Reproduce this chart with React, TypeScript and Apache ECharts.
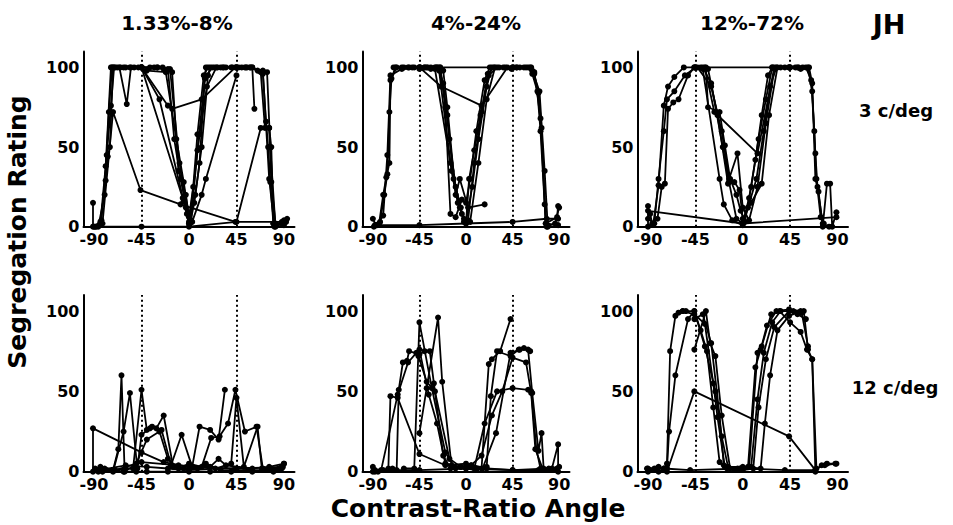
import React, { useEffect, useRef } from "react";
import * as echarts from "echarts";

// ---- tick labels, guides and texts ----
const ANGLE_TICKS = [-90, -45, 0, 45, 90];
const RATING_TICKS = [0, 50, 100];
const GUIDE_ANGLES = [-45, 45];
const CONTRASTS = ["1.33%-8%", "4%-24%", "12%-72%"];
const FREQS = ["3 c/deg", "12 c/deg"];
const OBSERVER = "JH";
const X_TITLE = "Contrast-Ratio Angle";
const Y_TITLE = "Segregation Rating";

// ---- data: each panel is a list of runs, each run a list of [angle, rating] ----
const low3: number[][][] = [
  [[-91, 15], [-91, 0], [-84, 3], [-79, 29], [-77, 44], [-75, 50], [-72, 100], [-68, 100], [-60, 100], [-52, 100], [-45, 100], [-37, 100], [-30, 100], [-25, 100], [-20, 99], [-14, 55], [-8, 30], [0, 3], [6, 20], [12, 50], [18, 95], [20, 100], [27, 100], [35, 100], [45, 100], [53, 100], [60, 100], [65, 98], [70, 96], [73, 66], [75, 50], [77, 28], [80, 2], [88, 2], [90, 4]],
  [[-89, 0], [-83, 4], [-78, 45], [-74, 76], [-71, 100], [-66, 100], [-59, 77], [-55, 100], [-45, 100], [-33, 100], [-24, 99], [-16, 97], [-10, 35], [-3, 20], [1, 2], [5, 15], [10, 40], [15, 93], [22, 100], [32, 100], [45, 100], [54, 100], [60, 100], [62, 74]],
  [[-88, 0], [-82, 2], [-72, 72], [-46, 23], [-8, 14], [44, 3], [88, 3], [93, 5]],
  [[-70, 100], [-56, 100], [-45, 100], [-20, 76], [-16, 74], [12, 80], [44, 100], [50, 100], [58, 100], [68, 97], [72, 62], [76, 62], [78, 28], [82, 2], [90, 2]],
  [[-90, 0], [-45, 0], [0, 0], [45, 3], [68, 62], [76, 62], [78, 50], [80, 2], [90, 1]],
  [[-86, 0], [-80, 20], [-76, 72], [-73, 100], [-62, 100], [-48, 100], [-40, 98], [-22, 97], [-12, 55], [-5, 28], [0, 6], [4, 25], [8, 58], [14, 95], [18, 100], [30, 100], [40, 100], [47, 100], [58, 100], [69, 97], [74, 97], [77, 50], [82, 0], [92, 3]],
  [[-84, 2], [-79, 38], [-74, 100], [-65, 100], [-45, 100], [-28, 80], [-5, 16], [0, 2], [10, 58], [17, 88], [26, 100], [41, 100], [55, 100], [70, 98], [76, 30], [81, 0]],
  [[-45, 100], [-30, 100], [-18, 99], [-9, 40], [-2, 8], [2, 4], [8, 48], [13, 80], [16, 100], [24, 100], [33, 100], [45, 100]],
  [[-45, 100], [-6, 18], [-3, 12], [0, 2], [3, 3], [12, 20], [16, 30], [45, 95]],
];

const mid3: number[][][] = [
  [[-90, 5], [-87, 1], [-83, 3], [-79, 20], [-76, 33], [-74, 72], [-72, 93], [-67, 100], [-62, 100], [-56, 100], [-45, 100], [-40, 100], [-34, 100], [-30, 100], [-25, 100], [-18, 70], [-12, 30], [-6, 12], [0, 3], [6, 25], [12, 55], [20, 88], [25, 100], [32, 100], [45, 100], [52, 100], [60, 100], [64, 96], [69, 85], [72, 60], [76, 14], [78, 0], [86, 2], [90, 12]],
  [[-89, 0], [-84, 2], [-80, 20], [-77, 31], [-74, 40], [-73, 92], [-68, 100], [-60, 100], [-50, 100], [-44, 100], [-37, 100], [-29, 100], [-25, 100], [-20, 75], [-15, 8], [-10, 6], [-4, 17], [0, 15], [4, 30], [10, 60], [18, 92], [23, 100], [38, 100], [49, 100], [58, 100], [63, 100], [66, 96], [70, 84], [73, 62], [77, 2], [89, 1]],
  [[-70, 100], [-55, 100], [-45, 100], [-24, 88], [15, 76], [40, 100], [46, 100]],
  [[-45, 100], [45, 100], [62, 100], [66, 97], [72, 68], [77, 2], [88, 6], [89, 13]],
  [[-88, 1], [-45, 1], [0, 2], [45, 3], [78, 5], [89, 5]],
  [[-86, 1], [-80, 7], [-76, 45], [-73, 95], [-62, 99], [-52, 100], [-38, 100], [-27, 100], [-22, 90], [-16, 55], [-10, 25], [-5, 12], [-2, 3], [2, 4], [8, 40], [15, 72], [21, 96], [27, 100], [36, 100], [49, 100], [56, 100], [64, 98], [71, 85], [76, 35], [79, 0]],
  [[-45, 99], [-28, 100], [-22, 98], [-18, 75], [-10, 20], [-6, 30], [2, 12], [18, 14]],
  [[-40, 100], [-30, 99], [-15, 40], [-4, 8], [0, 2], [3, 30], [8, 48], [14, 70], [22, 95], [30, 100], [44, 99]],
  [[-34, 99], [-26, 98], [-14, 35], [-8, 15], [-2, 5], [4, 3], [12, 40], [20, 80], [28, 100]],
];

const high3: number[][][] = [
  [[-90, 13], [-90, 0], [-85, 2], [-80, 26], [-75, 76], [-71, 88], [-65, 94], [-56, 100], [-46, 100], [-38, 100], [-30, 90], [-25, 72], [-19, 50], [-13, 28], [-6, 5], [0, 2], [6, 18], [12, 42], [18, 70], [24, 95], [28, 100], [40, 100], [50, 100], [57, 100], [62, 100], [66, 85], [69, 46], [71, 25], [76, 2], [82, 0]],
  [[-88, 8], [-86, 2], [-81, 5], [-77, 25], [-74, 27], [-71, 74], [-66, 78], [-61, 80], [-52, 95], [-46, 100], [-35, 100], [-33, 75], [-22, 72], [-17, 51], [-12, 30], [-6, 20], [-2, 10], [2, 3], [8, 25], [15, 55], [22, 80], [28, 100], [36, 100], [44, 100], [52, 100], [60, 100], [65, 92], [68, 60], [70, 30], [74, 6], [77, 2]],
  [[-90, 10], [0, 2], [89, 6]],
  [[-90, 5], [-84, 2], [-80, 30], [-75, 60], [-72, 80], [-65, 85], [-55, 95], [-45, 100], [45, 100], [53, 100], [63, 100], [66, 90], [69, 30], [72, 22], [76, 0], [80, 27], [83, 27], [85, 0], [89, 9]],
  [[-36, 100], [-27, 72], [14, 46], [30, 100], [44, 100]],
  [[-45, 100], [-38, 99], [-22, 30], [-18, 14], [-10, 4], [0, 1], [5, 12], [13, 30], [20, 60], [26, 88], [32, 100], [45, 100]],
  [[-43, 100], [-30, 88], [-20, 60], [-13, 30], [-5, 46], [0, 12], [6, 4], [14, 25], [22, 65], [30, 99]],
  [[-40, 100], [-33, 99], [-24, 70], [-14, 27], [-8, 28], [-3, 23], [0, 5], [8, 15], [18, 27], [25, 70], [33, 100], [44, 100], [55, 99]],
];

const low12: number[][][] = [
  [[-91, 0], [-91, 27], [-45, 12], [-24, 6], [0, 3], [45, 2], [89, 3]],
  [[-89, 2], [-84, 3], [-78, 1], [-72, 1], [-67, 14], [-64, 60], [-61, 0], [-50, 0], [-40, 0], [-20, 0], [0, 0], [20, 0], [40, 0], [60, 0], [80, 1], [90, 5]],
  [[-86, 0], [-72, 0], [-62, 25], [-56, 49], [-49, 2], [-45, 23], [-37, 27], [-31, 27], [-24, 35], [-15, 3], [-5, 2], [8, 2], [16, 5], [30, 1], [42, 1], [56, 1], [74, 1], [88, 3]],
  [[-82, 0], [-60, 2], [-53, 2], [-45, 51], [-40, 26], [-35, 28], [-26, 26], [-17, 4], [-7, 23], [3, 3], [10, 28], [20, 26], [28, 20], [34, 51]],
  [[-70, 1], [-50, 5], [-40, 20], [-28, 25], [-20, 8], [-10, 2], [0, 5], [12, 3], [21, 21], [29, 22], [37, 30], [44, 51], [53, 25], [64, 28], [70, 2], [80, 0], [88, 2]],
  [[-85, 1], [-60, 4], [-40, 3], [-20, 2], [0, 1], [25, 2], [40, 5], [45, 46], [52, 3], [65, 28], [69, 2], [85, 2]],
  [[-80, 2], [-62, 0], [-45, 6], [-10, 4], [20, 3], [28, 8], [35, 4], [60, 2], [76, 3], [90, 5]],
];

const mid12: number[][][] = [
  [[-90, 3], [-88, 0], [-80, 1], [-75, 2], [-73, 47], [-66, 46], [-45, 11], [-20, 4], [0, 5], [20, 2], [45, 1], [70, 1], [88, 1]],
  [[-85, 0], [-71, 2], [-67, 1], [-65, 51], [-61, 68], [-57, 69], [-55, 75], [-45, 73], [-40, 75], [-35, 75], [-31, 55], [-22, 10], [-15, 2], [0, 3], [15, 2], [22, 67], [25, 70], [33, 75], [43, 95]],
  [[-60, 2], [-50, 2], [-45, 93], [-33, 52], [-20, 12], [-10, 2], [5, 4], [16, 2], [29, 24], [43, 74], [52, 76], [56, 77], [62, 75]],
  [[-45, 24], [-38, 52], [-27, 96], [-23, 56], [-14, 4], [0, 2], [10, 1], [20, 3], [24, 47], [30, 75], [43, 72], [51, 76], [60, 76], [64, 49], [70, 13], [73, 24], [75, 2], [83, 2], [89, 17], [89, 0]],
  [[-45, 76], [-36, 48], [-28, 30], [-20, 5], [-5, 3], [8, 2], [18, 30], [30, 50], [45, 52], [60, 51], [63, 50], [68, 14], [72, 2], [88, 2]],
  [[-90, 0], [-82, 1], [-66, 48], [-56, 68], [-48, 74], [-46, 72], [-38, 56], [-30, 50], [-16, 8], [-5, 3], [5, 4], [15, 10], [25, 35], [35, 50], [45, 71], [58, 68], [63, 49], [67, 14], [74, 2]],
  [[-88, 1], [-70, 1], [-45, 1], [0, 2], [45, 1], [80, 2], [90, 3]],
];

const high12: number[][][] = [
  [[-91, 2], [-88, 1], [-82, 2], [-75, 2], [-72, 5], [-69, 75], [-64, 97], [-61, 99], [-57, 100], [-54, 100], [-46, 100], [-40, 88], [-34, 75], [-28, 40], [-22, 6], [-15, 2], [-5, 2], [5, 3], [12, 65], [17, 76], [23, 91], [32, 100], [44, 101], [55, 100], [58, 100], [62, 76], [66, 70], [70, 2], [78, 4], [88, 5]],
  [[-90, 0], [-80, 0], [-72, 2], [-70, 25], [-64, 60], [-52, 95], [-46, 100], [-36, 78], [-26, 50], [-20, 22], [-14, 3], [0, 1], [10, 2], [15, 40], [22, 70], [30, 90], [44, 100], [52, 98], [60, 95]],
  [[-72, 0], [-46, 50], [44, 22], [69, 1]],
  [[-46, 76], [-35, 100], [-31, 80], [-26, 72], [-20, 35], [-12, 2], [-3, 2], [6, 3], [14, 74], [18, 78], [27, 98], [35, 100], [45, 93], [55, 87], [61, 76], [66, 70], [69, 0]],
  [[-57, 100], [-46, 98], [-36, 92], [-28, 55], [-24, 34], [-17, 3], [0, 3], [17, 2], [21, 30], [26, 60], [33, 88], [44, 97], [52, 99]],
  [[-90, 2], [-84, 2], [-80, 3], [-75, 2], [-50, 1], [0, 2], [40, 1], [69, 1], [75, 4], [80, 5], [89, 5]],
  [[-46, 95], [-38, 98], [-30, 80], [-22, 35], [-18, 4], [-8, 1], [8, 3], [14, 45], [20, 74], [28, 93], [36, 100], [48, 100], [56, 99], [62, 78]],
];

const PANELS = [low3, mid3, high3, low12, mid12, high12];

// ---- layout ----
const COLS = [
  { left: 83.5, width: 211 },
  { left: 362.5, width: 207 },
  { left: 637.5, width: 210.5 },
];
const ROWS = [
  { top: 51.5, height: 175.2 },
  { top: 295, height: 176.7 },
];
const TITLE_X = [177, 476, 752];
const FONT = "DejaVu Sans, Liberation Sans, sans-serif";

export default function App() {
  const ref = useRef<HTMLDivElement>(null);
  useEffect(() => {
    document.body.style.margin = "0";
    if (!ref.current) return;
    const chart = echarts.init(ref.current, undefined, { renderer: "svg" });

    const grids: any[] = [];
    const xAxes: any[] = [];
    const yAxes: any[] = [];
    const series: any[] = [];

    PANELS.forEach((runs, i) => {
      const col = COLS[i % 3];
      const row = ROWS[Math.floor(i / 3)];
      grids.push({ left: col.left, width: col.width, top: row.top, height: row.height, containLabel: false });
      xAxes.push({
        type: "value",
        gridIndex: i,
        min: -100,
        max: 100,
        axisLine: { show: true, onZero: false, lineStyle: { color: "#000", width: 2 } },
        axisTick: { show: false },
        splitLine: { show: false },
        axisLabel: {
          customValues: ANGLE_TICKS,
          color: "#000",
          fontWeight: "bold",
          fontFamily: FONT,
          fontSize: 16,
          margin: 5,
        },
      });
      yAxes.push({
        type: "value",
        gridIndex: i,
        min: 0,
        max: 110,
        axisLine: { show: true, onZero: false, lineStyle: { color: "#000", width: 2 } },
        axisTick: { show: false },
        splitLine: { show: false },
        axisLabel: {
          customValues: RATING_TICKS,
          color: "#000",
          fontWeight: "bold",
          fontFamily: FONT,
          fontSize: 16,
          margin: 4,
        },
      });
      runs.forEach((run, k) => {
        const s: any = {
          type: "line",
          xAxisIndex: i,
          yAxisIndex: i,
          data: run,
          symbol: "circle",
          symbolSize: 6,
          showSymbol: true,
          lineStyle: { color: "#000", width: 1.8 },
          itemStyle: { color: "#000" },
          silent: true,
          z: 3,
        };
        if (k === 0) {
          s.markLine = {
            silent: true,
            symbol: ["none", "none"],
            label: { show: false },
            lineStyle: { color: "#000", type: [2, 3], width: 2 },
            data: GUIDE_ANGLES.map((a) => ({ xAxis: a })),
          };
        }
        series.push(s);
      });
    });

    const bold = (size: number) => `bold ${size}px ${FONT}`;
    const graphic: any[] = [
      ...CONTRASTS.map((t, i) => ({
        type: "text",
        x: TITLE_X[i],
        y: 23,
        style: { text: t, font: bold(20), fill: "#000", align: "center", verticalAlign: "middle" },
      })),
      {
        type: "text",
        x: 889,
        y: 24,
        style: { text: OBSERVER, font: bold(27), fill: "#000", align: "center", verticalAlign: "middle" },
      },
      {
        type: "text",
        x: 896,
        y: 110,
        style: { text: FREQS[0], font: bold(18), fill: "#000", align: "center", verticalAlign: "middle" },
      },
      {
        type: "text",
        x: 895,
        y: 387,
        style: { text: FREQS[1], font: bold(18), fill: "#000", align: "center", verticalAlign: "middle" },
      },
      {
        type: "text",
        x: 17,
        y: 232,
        rotation: Math.PI / 2,
        style: { text: Y_TITLE, font: bold(25), fill: "#000", align: "center", verticalAlign: "middle" },
      },
      {
        type: "text",
        x: 478,
        y: 508,
        style: { text: X_TITLE, font: bold(25), fill: "#000", align: "center", verticalAlign: "middle" },
      },
    ];

    chart.setOption({
      animation: false,
      backgroundColor: "#fff",
      grid: grids,
      xAxis: xAxes,
      yAxis: yAxes,
      series,
      graphic,
    });
    return () => chart.dispose();
  }, []);
  return <div ref={ref} style={{ position: "absolute", left: 0, top: 0, width: 953, height: 525 }} />;
}
